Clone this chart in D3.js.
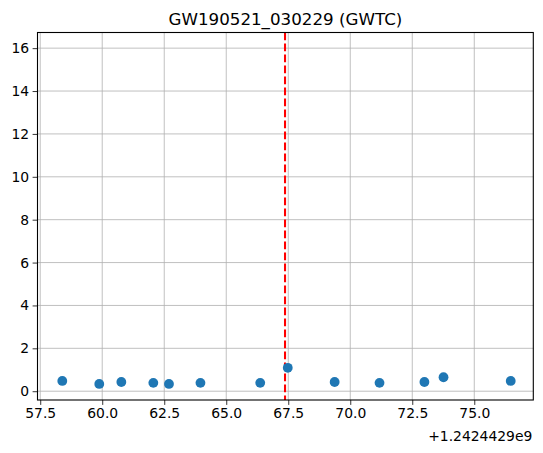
<!DOCTYPE html>
<html><head><meta charset="utf-8">
<script src="https://cdn.jsdelivr.net/npm/d3@7"></script>
<style>body{margin:0;background:#fff}svg{display:block}text{font-family:"DejaVu Sans",sans-serif;fill:#000}</style>
</head><body>
<script>
const title = "GW190521_030229 (GWTC)";
const offsetLabel = "+1.2424429e9";
const times = [58.39, 59.88, 60.77, 62.06, 62.69, 63.96, 66.37, 67.48, 69.37, 71.18, 72.99, 73.76, 76.47];
const values = [0.48, 0.34, 0.43, 0.39, 0.34, 0.39, 0.39, 1.09, 0.43, 0.39, 0.43, 0.65, 0.48];
const eventTime = 67.37;
const xTicks = [57.5, 60.0, 62.5, 65.0, 67.5, 70.0, 72.5, 75.0];
const yTicks = [0, 2, 4, 6, 8, 10, 12, 14, 16];
const xDomain = [57.39, 77.38];
const yDomain = [-0.41, 16.73];

const W = 543, H = 453;
const m = {l: 37.5, r: 533.3, t: 32.5, b: 400};
const svg = d3.select("body").append("svg").attr("width", W).attr("height", H);
const x = d3.scaleLinear().domain(xDomain).range([m.l, m.r]);
const y = d3.scaleLinear().domain(yDomain).range([m.b, m.t]);

// grid
svg.append("g").selectAll("line").data(xTicks).join("line")
  .attr("x1", d => x(d)).attr("x2", d => x(d)).attr("y1", m.t).attr("y2", m.b)
  .attr("stroke", "#b0b0b0").attr("stroke-width", 0.8);
svg.append("g").selectAll("line").data(yTicks).join("line")
  .attr("y1", d => y(d)).attr("y2", d => y(d)).attr("x1", m.l).attr("x2", m.r)
  .attr("stroke", "#b0b0b0").attr("stroke-width", 0.8);

// event line
svg.append("line").attr("x1", x(eventTime)).attr("x2", x(eventTime))
  .attr("y1", m.t).attr("y2", m.b).attr("stroke", "#ff0000").attr("stroke-width", 2.08)
  .attr("stroke-dasharray", "7.7,3.3");

// points
svg.append("g").selectAll("circle").data(times).join("circle")
  .attr("cx", d => x(d)).attr("cy", (d, i) => y(values[i])).attr("r", 4.9)
  .attr("fill", "#1f77b4");

// axes
const xAxis = d3.axisBottom(x).tickValues(xTicks).tickFormat(d3.format(".1f")).tickSize(4.9).tickPadding(3.5);
const yAxis = d3.axisLeft(y).tickValues(yTicks).tickFormat(d3.format("d")).tickSize(4.9).tickPadding(3.5);
const gx = svg.append("g").attr("transform", `translate(0,${m.b})`).call(xAxis);
const gy = svg.append("g").attr("transform", `translate(${m.l},0)`).call(yAxis);
[gx, gy].forEach(g => {
  g.select(".domain").remove();
  g.selectAll("line").attr("stroke", "#000").attr("stroke-width", 0.8);
  g.selectAll("text").attr("font-size", 13.9).attr("font-family", "DejaVu Sans").attr("fill", "#000");
});

// frame
svg.append("rect").attr("x", m.l).attr("y", m.t).attr("width", m.r - m.l).attr("height", m.b - m.t)
  .attr("fill", "none").attr("stroke", "#000").attr("stroke-width", 1.1);

// offset text
svg.append("text").attr("x", m.r - 1).attr("y", 441).attr("text-anchor", "end")
  .attr("font-size", 13.9).text(offsetLabel);

// title
svg.append("text").attr("x", (m.l + m.r) / 2).attr("y", 25).attr("text-anchor", "middle")
  .attr("font-size", 16.7).text(title);
</script>
</body></html>
